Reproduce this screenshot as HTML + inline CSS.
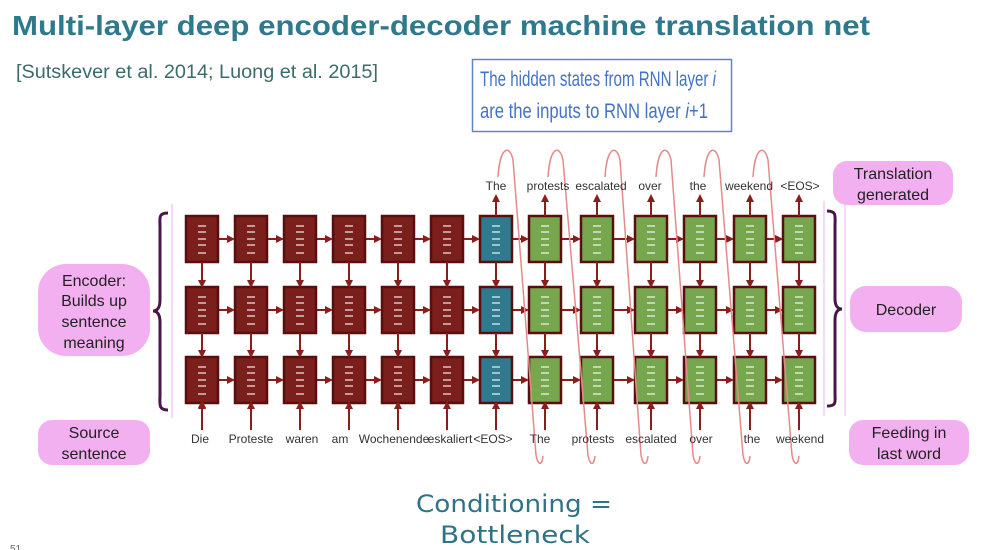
<!DOCTYPE html>
<html><head><meta charset="utf-8"><style>
html,body{margin:0;padding:0;background:#fff;}
svg{display:block;font-family:"Liberation Sans",sans-serif;}
.enc{fill:#7b1f1d;stroke:#5a0f0f;stroke-width:2.5}
.eos{fill:#2f7a8e;stroke:#5a0f0f;stroke-width:2.5}
.dec{fill:#76a64d;stroke:#5a0f0f;stroke-width:2.5}
.mk{stroke:#fff;stroke-width:2;opacity:.55;fill:none}
.ar{stroke:#8b1d1b;stroke-width:2;fill:none;marker-end:url(#ah)}
.w{font-size:12px;fill:#333;text-anchor:middle}
.bub{fill:#f2b0f0}
.bt{font-size:16px;fill:#222;text-anchor:middle}
.loop{stroke:#e58a8a;stroke-width:1.5;fill:none}
</style></head><body>
<svg width="995" height="550" viewBox="0 0 995 550">
<defs>
<marker id="ah" markerWidth="8" markerHeight="8" refX="6" refY="4" orient="auto" markerUnits="userSpaceOnUse"><path d="M0,0 L8,4 L0,8z" fill="#8b1d1b"/></marker>
<marker id="ahp" markerWidth="8" markerHeight="8" refX="6" refY="4" orient="auto" markerUnits="userSpaceOnUse"><path d="M0,0 L8,4 L0,8z" fill="#e58a8a"/></marker>
</defs>
<text x="12" y="35" font-size="28" font-weight="bold" fill="#2e7a8c" textLength="858" lengthAdjust="spacingAndGlyphs">Multi-layer deep encoder-decoder machine translation net</text>
<text x="16" y="78" font-size="19" fill="#3d6b6b" textLength="362" lengthAdjust="spacingAndGlyphs">[Sutskever et al. 2014; Luong et al. 2015]</text>
<rect x="472.5" y="59.5" width="259" height="72" fill="#fff" stroke="#5b86c8" stroke-width="1.5"/>
<text x="480" y="86" font-size="21" fill="#4472c4" textLength="236" lengthAdjust="spacingAndGlyphs">The hidden states from RNN layer <tspan font-style="italic">i</tspan></text>
<text x="480" y="118" font-size="21" fill="#4472c4" textLength="228" lengthAdjust="spacingAndGlyphs">are the inputs to RNN layer <tspan font-style="italic">i</tspan>+1</text>

<!-- bubbles -->
<rect class="bub" x="38" y="264" width="112" height="92" rx="28"/>
<text class="bt" x="94" y="286">Encoder:</text>
<text class="bt" x="94" y="306">Builds up</text>
<text class="bt" x="94" y="327">sentence</text>
<text class="bt" x="94" y="348">meaning</text>
<rect class="bub" x="38" y="420" width="112" height="45" rx="14"/>
<text class="bt" x="94" y="438">Source</text>
<text class="bt" x="94" y="459">sentence</text>
<rect class="bub" x="833" y="161" width="120" height="44" rx="14"/>
<text class="bt" x="893" y="179">Translation</text>
<text class="bt" x="893" y="200">generated</text>
<rect class="bub" x="850" y="286" width="112" height="46" rx="16"/>
<text class="bt" x="906" y="315">Decoder</text>
<rect class="bub" x="849" y="420" width="120" height="45" rx="14"/>
<text class="bt" x="909" y="438">Feeding in</text>
<text class="bt" x="909" y="459">last word</text>

<!-- braces -->
<line x1="172" y1="204" x2="172" y2="418" stroke="#f2b0f0" stroke-width="1"/>
<path d="M168,213 C158,213 160,218 160,228 L160,300 C160,308 157,311 153,311 C157,311 160,314 160,322 L160,394 C160,404 158,410 168,410" fill="none" stroke="#4a1548" stroke-width="3"/>
<line x1="824" y1="201" x2="824" y2="416" stroke="#f2b0f0" stroke-width="1"/>
<line x1="845" y1="203" x2="845" y2="416" stroke="#f2b0f0" stroke-width="1"/>
<path d="M827,211 C837,211 835,216 835,226 L835,299 C835,306 838,309 842,309 C838,309 835,312 835,320 L835,393 C835,402 837,406 827,406" fill="none" stroke="#4a1548" stroke-width="3"/>

<!-- horizontal arrows -->
<g class="ar">
<path d="M218,239H233M267,239H282M316,239H331M365,239H380M414,239H429M463,239H478M512,239H527M561,239H579M613,239H633M667,239H682M716,239H732M766,239H781"/>
</g>
<g>
<path class="ar" d="M218,239H233"/><path class="ar" d="M267,239H282"/><path class="ar" d="M316,239H331"/><path class="ar" d="M365,239H380"/><path class="ar" d="M414,239H429"/><path class="ar" d="M463,239H478"/><path class="ar" d="M512,239H527"/><path class="ar" d="M561,239H579"/><path class="ar" d="M613,239H633"/><path class="ar" d="M667,239H682"/><path class="ar" d="M716,239H732"/><path class="ar" d="M766,239H781"/>
<path class="ar" d="M218,310H233"/><path class="ar" d="M267,310H282"/><path class="ar" d="M316,310H331"/><path class="ar" d="M365,310H380"/><path class="ar" d="M414,310H429"/><path class="ar" d="M463,310H478"/><path class="ar" d="M512,310H527"/><path class="ar" d="M561,310H579"/><path class="ar" d="M613,310H633"/><path class="ar" d="M667,310H682"/><path class="ar" d="M716,310H732"/><path class="ar" d="M766,310H781"/>
<path class="ar" d="M218,380H233"/><path class="ar" d="M267,380H282"/><path class="ar" d="M316,380H331"/><path class="ar" d="M365,380H380"/><path class="ar" d="M414,380H429"/><path class="ar" d="M463,380H478"/><path class="ar" d="M512,380H527"/><path class="ar" d="M561,380H579"/><path class="ar" d="M613,380H633"/><path class="ar" d="M667,380H682"/><path class="ar" d="M716,380H732"/><path class="ar" d="M766,380H781"/>
</g>

<!-- columns -->
<g id="cols">
<g transform="translate(202,0)"><rect class="enc" x="-16" y="216" width="32" height="46"/><rect class="enc" x="-16" y="287" width="32" height="46"/><rect class="enc" x="-16" y="357" width="32" height="46"/></g>
<g transform="translate(251,0)"><rect class="enc" x="-16" y="216" width="32" height="46"/><rect class="enc" x="-16" y="287" width="32" height="46"/><rect class="enc" x="-16" y="357" width="32" height="46"/></g>
<g transform="translate(300,0)"><rect class="enc" x="-16" y="216" width="32" height="46"/><rect class="enc" x="-16" y="287" width="32" height="46"/><rect class="enc" x="-16" y="357" width="32" height="46"/></g>
<g transform="translate(349,0)"><rect class="enc" x="-16" y="216" width="32" height="46"/><rect class="enc" x="-16" y="287" width="32" height="46"/><rect class="enc" x="-16" y="357" width="32" height="46"/></g>
<g transform="translate(398,0)"><rect class="enc" x="-16" y="216" width="32" height="46"/><rect class="enc" x="-16" y="287" width="32" height="46"/><rect class="enc" x="-16" y="357" width="32" height="46"/></g>
<g transform="translate(447,0)"><rect class="enc" x="-16" y="216" width="32" height="46"/><rect class="enc" x="-16" y="287" width="32" height="46"/><rect class="enc" x="-16" y="357" width="32" height="46"/></g>
<g transform="translate(496,0)"><rect class="eos" x="-16" y="216" width="32" height="46"/><rect class="eos" x="-16" y="287" width="32" height="46"/><rect class="eos" x="-16" y="357" width="32" height="46"/></g>
<g transform="translate(545,0)"><rect class="dec" x="-16" y="216" width="32" height="46"/><rect class="dec" x="-16" y="287" width="32" height="46"/><rect class="dec" x="-16" y="357" width="32" height="46"/></g>
<g transform="translate(597,0)"><rect class="dec" x="-16" y="216" width="32" height="46"/><rect class="dec" x="-16" y="287" width="32" height="46"/><rect class="dec" x="-16" y="357" width="32" height="46"/></g>
<g transform="translate(651,0)"><rect class="dec" x="-16" y="216" width="32" height="46"/><rect class="dec" x="-16" y="287" width="32" height="46"/><rect class="dec" x="-16" y="357" width="32" height="46"/></g>
<g transform="translate(700,0)"><rect class="dec" x="-16" y="216" width="32" height="46"/><rect class="dec" x="-16" y="287" width="32" height="46"/><rect class="dec" x="-16" y="357" width="32" height="46"/></g>
<g transform="translate(750,0)"><rect class="dec" x="-16" y="216" width="32" height="46"/><rect class="dec" x="-16" y="287" width="32" height="46"/><rect class="dec" x="-16" y="357" width="32" height="46"/></g>
<g transform="translate(799,0)"><rect class="dec" x="-16" y="216" width="32" height="46"/><rect class="dec" x="-16" y="287" width="32" height="46"/><rect class="dec" x="-16" y="357" width="32" height="46"/></g>
</g>

<!-- number marks -->
<g class="mk">
<path d="M198,226h8M198,232h8M198,239h8M198,245h8M198,253h8 M198,297h8M198,303h8M198,310h8M198,316h8M198,324h8 M198,367h8M198,373h8M198,380h8M198,386h8M198,394h8"/>
<path d="M247,226h8M247,232h8M247,239h8M247,245h8M247,253h8 M247,297h8M247,303h8M247,310h8M247,316h8M247,324h8 M247,367h8M247,373h8M247,380h8M247,386h8M247,394h8"/>
<path d="M296,226h8M296,232h8M296,239h8M296,245h8M296,253h8 M296,297h8M296,303h8M296,310h8M296,316h8M296,324h8 M296,367h8M296,373h8M296,380h8M296,386h8M296,394h8"/>
<path d="M345,226h8M345,232h8M345,239h8M345,245h8M345,253h8 M345,297h8M345,303h8M345,310h8M345,316h8M345,324h8 M345,367h8M345,373h8M345,380h8M345,386h8M345,394h8"/>
<path d="M394,226h8M394,232h8M394,239h8M394,245h8M394,253h8 M394,297h8M394,303h8M394,310h8M394,316h8M394,324h8 M394,367h8M394,373h8M394,380h8M394,386h8M394,394h8"/>
<path d="M443,226h8M443,232h8M443,239h8M443,245h8M443,253h8 M443,297h8M443,303h8M443,310h8M443,316h8M443,324h8 M443,367h8M443,373h8M443,380h8M443,386h8M443,394h8"/>
<path d="M492,226h8M492,232h8M492,239h8M492,245h8M492,253h8 M492,297h8M492,303h8M492,310h8M492,316h8M492,324h8 M492,367h8M492,373h8M492,380h8M492,386h8M492,394h8"/>
<path d="M541,226h8M541,232h8M541,239h8M541,245h8M541,253h8 M541,297h8M541,303h8M541,310h8M541,316h8M541,324h8 M541,367h8M541,373h8M541,380h8M541,386h8M541,394h8"/>
<path d="M593,226h8M593,232h8M593,239h8M593,245h8M593,253h8 M593,297h8M593,303h8M593,310h8M593,316h8M593,324h8 M593,367h8M593,373h8M593,380h8M593,386h8M593,394h8"/>
<path d="M647,226h8M647,232h8M647,239h8M647,245h8M647,253h8 M647,297h8M647,303h8M647,310h8M647,316h8M647,324h8 M647,367h8M647,373h8M647,380h8M647,386h8M647,394h8"/>
<path d="M696,226h8M696,232h8M696,239h8M696,245h8M696,253h8 M696,297h8M696,303h8M696,310h8M696,316h8M696,324h8 M696,367h8M696,373h8M696,380h8M696,386h8M696,394h8"/>
<path d="M746,226h8M746,232h8M746,239h8M746,245h8M746,253h8 M746,297h8M746,303h8M746,310h8M746,316h8M746,324h8 M746,367h8M746,373h8M746,380h8M746,386h8M746,394h8"/>
<path d="M795,226h8M795,232h8M795,239h8M795,245h8M795,253h8 M795,297h8M795,303h8M795,310h8M795,316h8M795,324h8 M795,367h8M795,373h8M795,380h8M795,386h8M795,394h8"/>
</g>

<!-- vertical arrows -->
<g>
<path class="ar" d="M202,262V286M202,333V356M202,430V402"/>
<path class="ar" d="M202,262V286"/><path class="ar" d="M202,333V356"/><path class="ar" d="M202,430V403"/>
<path class="ar" d="M251,262V286"/><path class="ar" d="M251,333V356"/><path class="ar" d="M251,430V403"/>
<path class="ar" d="M300,262V286"/><path class="ar" d="M300,333V356"/><path class="ar" d="M300,430V403"/>
<path class="ar" d="M349,262V286"/><path class="ar" d="M349,333V356"/><path class="ar" d="M349,430V403"/>
<path class="ar" d="M398,262V286"/><path class="ar" d="M398,333V356"/><path class="ar" d="M398,430V403"/>
<path class="ar" d="M447,262V286"/><path class="ar" d="M447,333V356"/><path class="ar" d="M447,430V403"/>
<path class="ar" d="M496,262V286"/><path class="ar" d="M496,333V356"/><path class="ar" d="M496,430V403"/><path class="ar" d="M496,216V196"/>
<path class="ar" d="M545,262V286"/><path class="ar" d="M545,333V356"/><path class="ar" d="M545,430V403"/><path class="ar" d="M545,216V196"/>
<path class="ar" d="M597,262V286"/><path class="ar" d="M597,333V356"/><path class="ar" d="M597,430V403"/><path class="ar" d="M597,216V196"/>
<path class="ar" d="M651,262V286"/><path class="ar" d="M651,333V356"/><path class="ar" d="M651,430V403"/><path class="ar" d="M651,216V196"/>
<path class="ar" d="M700,262V286"/><path class="ar" d="M700,333V356"/><path class="ar" d="M700,430V403"/><path class="ar" d="M700,216V196"/>
<path class="ar" d="M750,262V286"/><path class="ar" d="M750,333V356"/><path class="ar" d="M750,430V403"/><path class="ar" d="M750,216V196"/>
<path class="ar" d="M799,262V286"/><path class="ar" d="M799,333V356"/><path class="ar" d="M799,430V403"/><path class="ar" d="M799,216V196"/>
</g>

<!-- pink loops -->
<g class="loop">
<path d="M498,177 C500,145 510,145 513,160 L536,455 C538,466 542,466 543,456"/>
<path d="M548,177 C550,145 560,145 563,160 L588,455 C590,466 594,466 595,456"/>
<path d="M605,177 C607,145 617,145 620,160 L641,455 C643,466 647,466 648,456"/>
<path d="M656,177 C658,145 668,145 671,160 L693,455 C695,466 699,466 700,456"/>
<path d="M704,177 C706,145 716,145 719,160 L743,455 C745,466 749,466 750,456"/>
<path d="M753,177 C755,145 765,145 768,160 L792,455 C794,466 798,466 799,456"/>
</g>

<!-- words -->
<g class="w">
<text x="496" y="190">The</text><text x="548" y="190">protests</text><text x="601" y="190">escalated</text><text x="650" y="190">over</text><text x="698" y="190">the</text><text x="749" y="190">weekend</text><text x="800" y="190">&lt;EOS&gt;</text>
<text x="200" y="443">Die</text><text x="251" y="443">Proteste</text><text x="302" y="443">waren</text><text x="340" y="443">am</text><text x="394" y="443">Wochenende</text><text x="450" y="443">eskaliert</text><text x="493" y="443">&lt;EOS&gt;</text>
<text x="540" y="443">The</text><text x="593" y="443">protests</text><text x="651" y="443">escalated</text><text x="701" y="443">over</text><text x="752" y="443">the</text><text x="800" y="443">weekend</text>
</g>

<!-- handwritten note -->
<g fill="#2f7387" font-family="'DejaVu Sans',sans-serif" font-size="24">
<text x="416" y="512" textLength="196" lengthAdjust="spacingAndGlyphs">Conditioning =</text>
<text x="440" y="543" textLength="150" lengthAdjust="spacingAndGlyphs">Bottleneck</text>
</g>
<text x="10" y="552" font-size="10" fill="#666">51</text>
</svg>
</body></html>
